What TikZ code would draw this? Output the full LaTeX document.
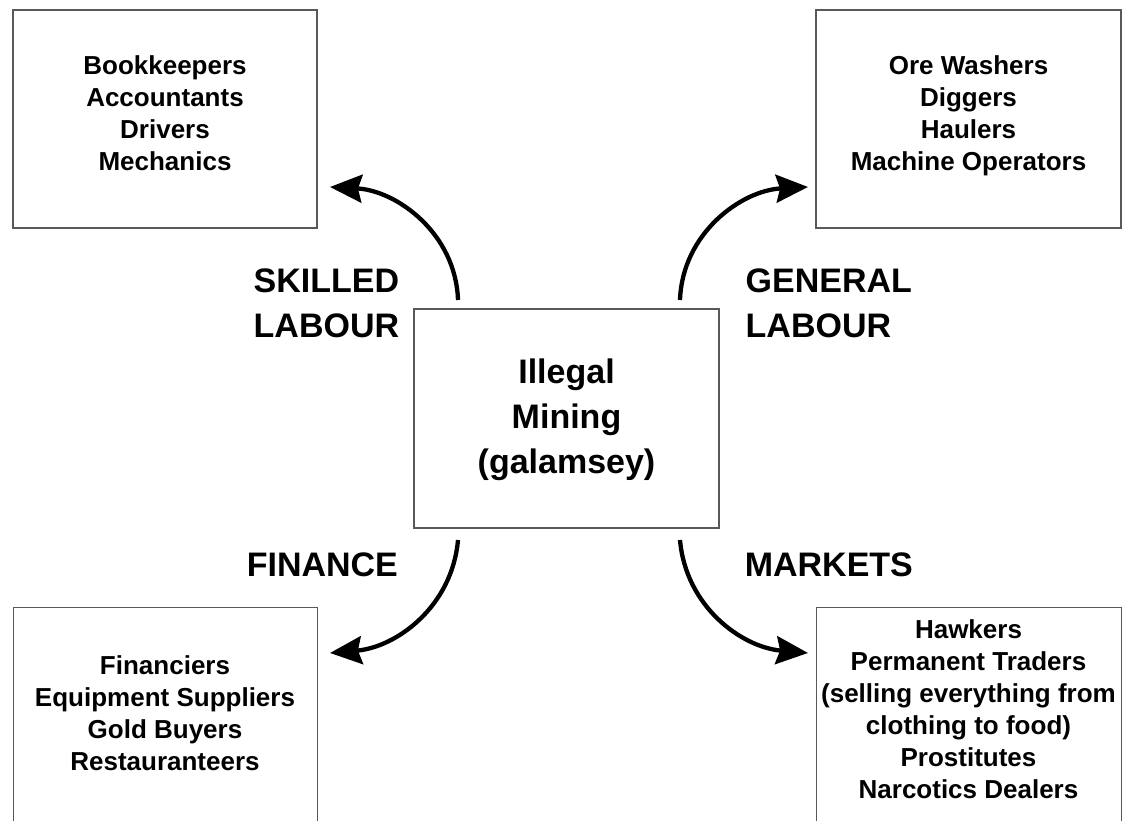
\documentclass[tikz,border=0pt]{standalone}
\usepackage{fontspec}
\setmainfont{Liberation Sans}
\usetikzlibrary{arrows.meta}
\begin{document}
\begin{tikzpicture}[x=1pt,y=1pt,
  box/.style={draw=black!65, line width=1.2pt, fill=white, inner sep=0pt},
  boxtext/.style={align=center, inner sep=0pt, font=\fontsize{26}{32}\selectfont\bfseries},
  centertext/.style={align=center, inner sep=0pt, font=\fontsize{34}{45}\selectfont\bfseries},
  label/.style={align=left, inner sep=0pt, font=\fontsize{34}{45}\selectfont\bfseries},
  flow/.style={-{Stealth[length=32pt,width=28pt,inset=4pt]}, line width=4.3pt}]
\useasboundingbox (0,0) rectangle (1122,821);
\clip (0,0) rectangle (1122,821);
% boxes
\node[box, minimum width=304pt, minimum height=218pt] (tl) at (165,702) {};
\node[box, minimum width=305pt, minimum height=218pt] (tr) at (968.5,702) {};
\node[box, minimum width=305pt, minimum height=219pt] (c) at (566.5,402.5) {};
\node[box, minimum width=304pt, minimum height=230pt, anchor=north west] (bl) at (13,214) {};
\node[box, minimum width=305pt, minimum height=230pt, anchor=north west] (br) at (816,214) {};
% texts
\node[boxtext] (tlt) at (165,707.3) {Bookkeepers\\Accountants\\Drivers\\Mechanics};
\node[boxtext] (trt) at (968.5,705) {Ore Washers\\Diggers\\Haulers\\Machine Operators};
\node[boxtext] (blt) at (165,108) {Financiers\\Equipment Suppliers\\Gold Buyers\\Restauranteers};
\node[boxtext] (brt) at (968.5,111.3) {Hawkers\\Permanent Traders\\(selling everything from\\clothing to food)\\Prostitutes\\Narcotics Dealers};
\node[centertext] (ct) at (566.5,401.5) {Illegal\\Mining\\(galamsey)};
% labels
\node[label, anchor=north west] (skilled) at (253.5,552.3) {SKILLED\\LABOUR};
\node[label, anchor=north west] (general) at (745.5,552.3) {GENERAL\\LABOUR};
\node[label, anchor=base west] (finance) at (246.6,244) {FINANCE};
\node[label, anchor=base west] (markets) at (744.6,244) {MARKETS};
% arrow endpoints
\coordinate (s1) at (458,521);
\coordinate (e1) at (330,634);
\coordinate (s2) at (680,521);
\coordinate (e2) at (808,634);
\coordinate (s3) at (458,281);
\coordinate (e3) at (330,168);
\coordinate (s4) at (680,281);
\coordinate (e4) at (808,168);
\draw[flow] (s1) to[out=92,in=-3] (e1);
\draw[flow] (s2) to[out=88,in=183] (e2);
\draw[flow] (s3) to[out=-95,in=5] (e3);
\draw[flow] (s4) to[out=-85,in=175] (e4);
\end{tikzpicture}
\end{document}
